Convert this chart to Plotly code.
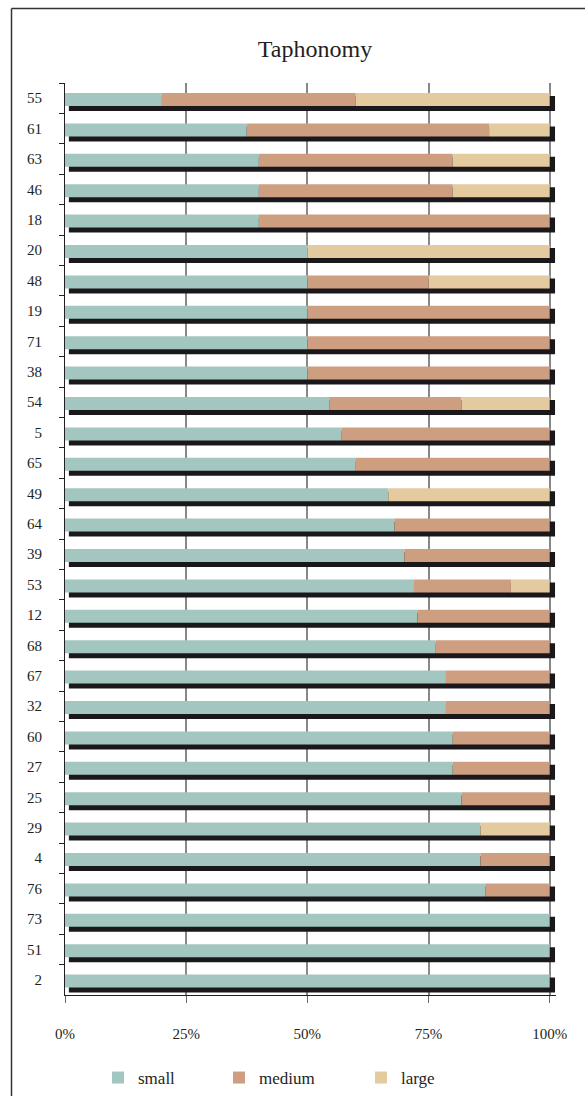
import numpy as np
import plotly.graph_objects as go

categories = ["55", "61", "63", "46", "18", "20", "48", "19", "71", "38",
              "54", "5", "65", "49", "64", "39", "53", "12", "68", "67",
              "32", "60", "27", "25", "29", "4", "76", "73", "51", "2"]
small = [20, 37.5, 40, 40, 40, 50, 50, 50, 50, 50,
         54.5, 57.1, 60, 66.7, 68, 70, 72, 72.7, 76.5, 78.6,
         78.6, 80, 80, 81.8, 85.7, 85.7, 86.7, 100, 100, 100]
medium = [40, 50, 40, 40, 60, 0, 25, 50, 50, 50,
          27.3, 42.9, 40, 0, 32, 30, 20, 27.3, 23.5, 21.4,
          21.4, 20, 20, 18.2, 0, 14.3, 13.3, 0, 0, 0]
large = [40, 12.5, 20, 20, 0, 50, 25, 0, 0, 0,
         18.2, 0, 0, 33.3, 0, 0, 8, 0, 0, 0,
         0, 0, 0, 0, 14.3, 0, 0, 0, 0, 0]
series_names = ["small", "medium", "large"]
tick_vals = [0, 25, 50, 75, 100]
tick_text = ["0%", "25%", "50%", "75%", "100%"]

colors = ["#A4C6C0", "#CD9E80", "#E3CA9F"]
shadow_color = "#1B181C"
text_color = "#231F20"
FONT = "Liberation Serif, Times New Roman, serif"

s = np.array(small)
m = np.array(medium)
l = np.array(large)
totals = s + m + l
bases = [np.zeros_like(s), s, s + m]
values = [s, m, l]

# 3D depth effect: dark slab offset right/down behind each bar
SHADOW_DX = 0.8
SHADOW_EXT = 1.1

BAR_W, BAR_OFF = 0.428, -0.171
SH_W, SH_OFF = 0.493, -0.072

fig = go.Figure()
fig.add_trace(go.Bar(
    y=categories, x=totals - SHADOW_DX + SHADOW_EXT, base=SHADOW_DX,
    orientation="h", marker=dict(color=shadow_color, line=dict(width=0)),
    width=SH_W, offset=SH_OFF, showlegend=False, hoverinfo="skip"))

legend_ids = ["legend", "legend2", "legend3"]
for name, val, base, col, lg in zip(series_names, values, bases, colors, legend_ids):
    fig.add_trace(go.Bar(
        y=categories, x=val, base=base, name=name, orientation="h",
        marker=dict(color=col, line=dict(width=0)),
        width=BAR_W, offset=BAR_OFF, legend=lg))

W, H = 588, 1099
ML, MR, MT, MB = 65, 32, 83, 104
PW = W - ML - MR
PH = H - MT - MB

def px_x(p):
    return (p - ML) / PW

def px_y(p):
    return (H - MB - p) / PH

leg_common = dict(orientation="h", xanchor="left", yanchor="middle",
                  font=dict(family=FONT, size=17, color=text_color),
                  bgcolor="rgba(0,0,0,0)", borderwidth=0)

frame_line = dict(color="#333333", width=1.5)
fx0, fy_top, fy_bot, fx_right = px_x(11.5), px_y(8.5), px_y(H - 3), px_x(W - 3)

fig.update_layout(
    width=W, height=H,
    margin=dict(l=ML, r=MR, t=MT, b=MB, autoexpand=False),
    paper_bgcolor="white", plot_bgcolor="white",
    barmode="overlay",
    font=dict(family=FONT, color=text_color),
    title=dict(text="Taphonomy", font=dict(family=FONT, size=24, color=text_color),
               x=px_x(315), xref="paper", xanchor="center",
               y=1 - 49 / H, yref="container", yanchor="middle"),
    xaxis=dict(range=[0, 101.3], tickvals=tick_vals, ticktext=tick_text,
               showgrid=True, gridcolor="#878787", gridwidth=1.5,
               zeroline=False, showline=True, linecolor=text_color, linewidth=1,
               ticks="outside", ticklen=7, tickcolor="#6a6a6a", tickwidth=1,
               ticklabelstandoff=18,
               tickfont=dict(family=FONT, size=15, color=text_color)),
    yaxis=dict(type="category", categoryorder="array", categoryarray=categories,
               autorange="reversed", showgrid=False, zeroline=False,
               showline=True, linecolor=text_color, linewidth=1,
               ticks="outside", ticklen=5, tickcolor=text_color, tickwidth=1,
               tickson="boundaries", ticklabelstandoff=19,
               tickfont=dict(family=FONT, size=15, color=text_color)),
    legend=dict(x=px_x(98), y=px_y(1078), **leg_common),
    legend2=dict(x=px_x(219), y=px_y(1078), **leg_common),
    legend3=dict(x=px_x(361), y=px_y(1078), **leg_common),
    shapes=[
        dict(type="line", xref="paper", yref="paper", layer="below",
             x0=fx0, x1=fx0, y0=fy_bot, y1=fy_top, line=frame_line),
        dict(type="line", xref="paper", yref="paper", layer="below",
             x0=fx0, x1=fx_right, y0=fy_top, y1=fy_top, line=frame_line),
    ],
)

fig.write_html("out.html")
